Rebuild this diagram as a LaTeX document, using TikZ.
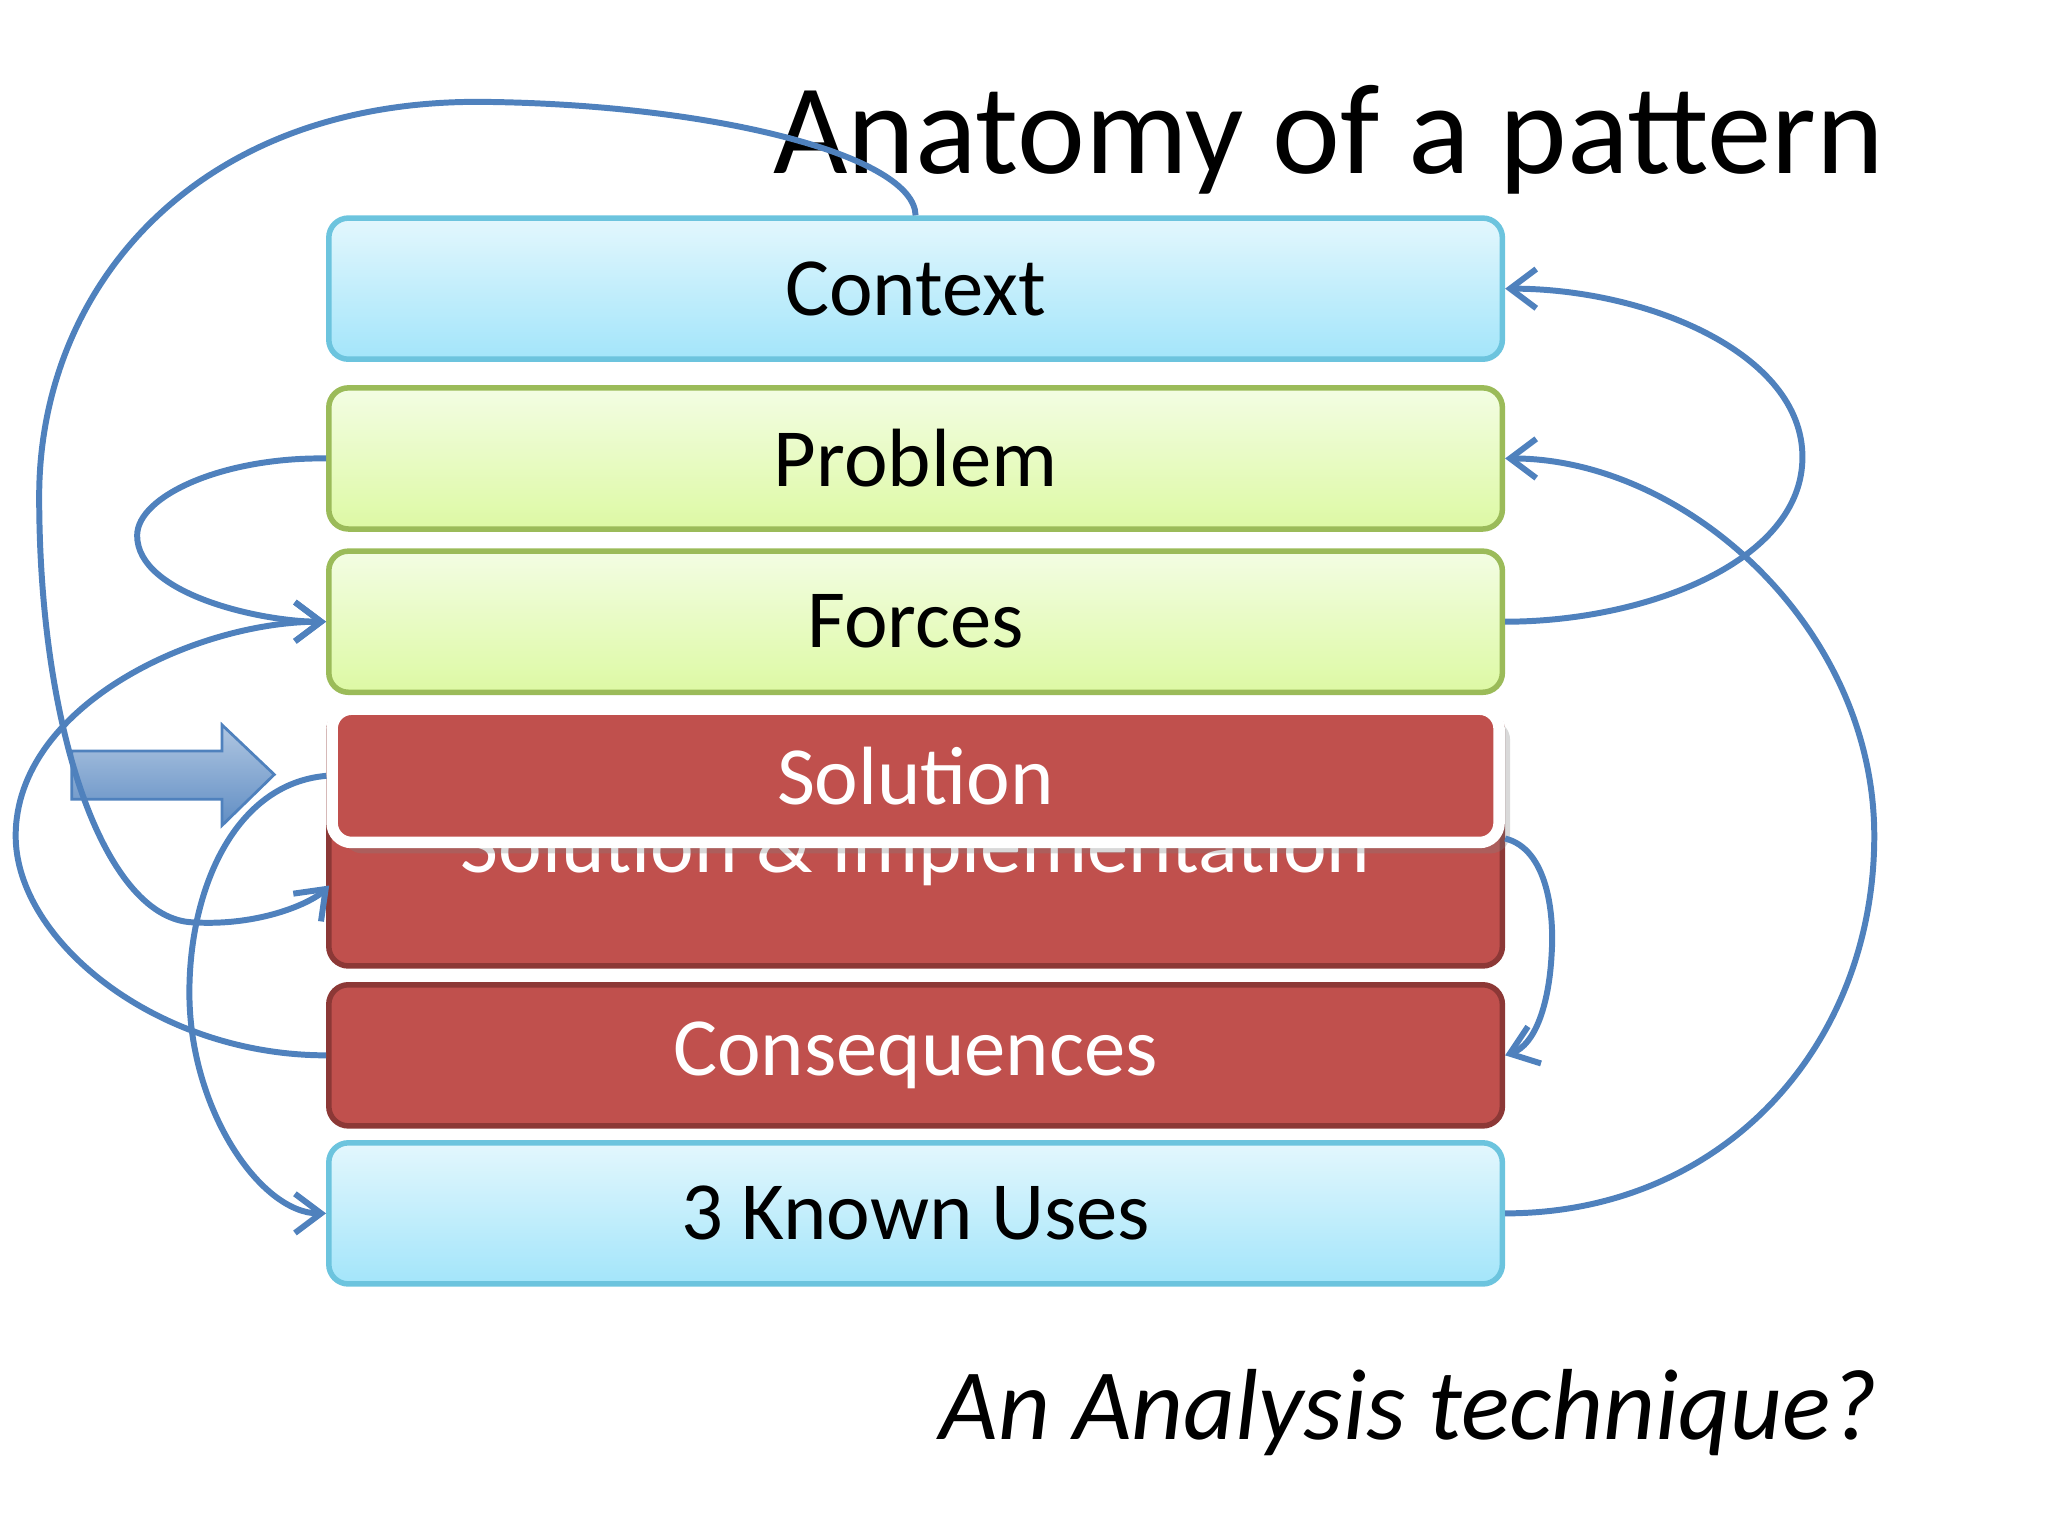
\documentclass[tikz,border=0pt]{standalone}
\usepackage{fontspec}
\setmainfont{Carlito}
\usetikzlibrary{arrows.meta,shapes.arrows,shadows}
\begin{document}
\begin{tikzpicture}[x=0.01cm,y=-0.01cm,
 box/.style={rounded corners=0.15cm,minimum width=8.98cm,minimum height=1.08cm,line width=1.2pt,font=\fontsize{18}{22}\selectfont,inner sep=0},
 cyanbox/.style={box,draw=cbd,top color=ct,bottom color=cb},
 greenbox/.style={box,draw=gbd,top color=gt,bottom color=gb},
 con/.style={draw=ln,line width=1.3pt,-{Straight Barb[length=2mm,width=3mm]}}]
\definecolor{rb}{HTML}{C0504D}\definecolor{rbd}{HTML}{8C3836}
\definecolor{ct}{HTML}{E3F7FD}\definecolor{cb}{HTML}{A3E5FA}\definecolor{cbd}{HTML}{6CC4DE}
\definecolor{gt}{HTML}{F3FDE3}\definecolor{gb}{HTML}{DDF9A4}\definecolor{gbd}{HTML}{9BBB59}
\definecolor{ln}{HTML}{4F81BD}
\useasboundingbox (0,0) rectangle (1568,1176);
\node[anchor=base east,font=\fontsize{28}{34}\selectfont] (title) at (1455,133) {Anatomy of a pattern};
\node[anchor=base east,font=\fontsize{22}{26}\selectfont\itshape] (sub) at (1450,1102) {An Analysis technique?};
\node[cyanbox] (ctx) at (701,221) {Context};
\node[greenbox] (prob) at (701,351) {Problem};
\node[greenbox] (frc) at (701,476) {Forces};
\node[box,draw=rbd,fill=rb,minimum height=1.95cm] (sai) at (701,642) {};
\node[anchor=base,text=white,font=\fontsize{18}{22}\selectfont] (saitxt) at (701,668) {Solution \& Implementation};
\node[box,draw=white,line width=2.5pt,fill=rb,text=white,minimum width=8.93cm,minimum height=1.02cm,drop shadow={opacity=0.3}] (sol) at (701,594) {Solution};
\node[box,draw=rbd,fill=rb,text=white] (cons) at (701,808) {Consequences};
\node[cyanbox] (ku) at (701,929) {3 Known Uses};
\draw[ln,line width=0.6pt,top color=ln!45,bottom color=ln!90] (55,575) -- (170,575) -- (170,555) -- (210,593) -- (170,632) -- (170,612) -- (55,612) -- cycle;
\draw[con] (ctx.north) .. controls (700,120) and (550,80) .. (370,78) .. controls (150,76) and (30,220) .. (30,380) .. controls (30,560) and (80,700) .. (145,706) .. controls (200,710) and (240,690) .. (252,678);
\draw[con] (prob.west) .. controls (170,350) and (105,380) .. (105,410) .. controls (105,455) and (200,476) .. (frc.west);
\draw[con] (cons.west) .. controls (120,808) and (12,720) .. (12,640) .. controls (12,540) and (150,476) .. (frc.west);
\draw[con] (sol.west) .. controls (180,600) and (145,680) .. (145,760) .. controls (145,850) and (200,929) .. (ku.west);
\draw[con] (frc.east) .. controls (1260,476) and (1380,430) .. (1380,350) .. controls (1380,270) and (1260,221) .. (ctx.east);
\draw[con] (ku.east) .. controls (1320,929) and (1435,800) .. (1435,640) .. controls (1435,480) and (1290,351) .. (prob.east);
\draw[con] (sai.east) .. controls (1185,650) and (1190,700) .. (1188,730) .. controls (1186,770) and (1175,800) .. (cons.east);
\end{tikzpicture}
\end{document}
